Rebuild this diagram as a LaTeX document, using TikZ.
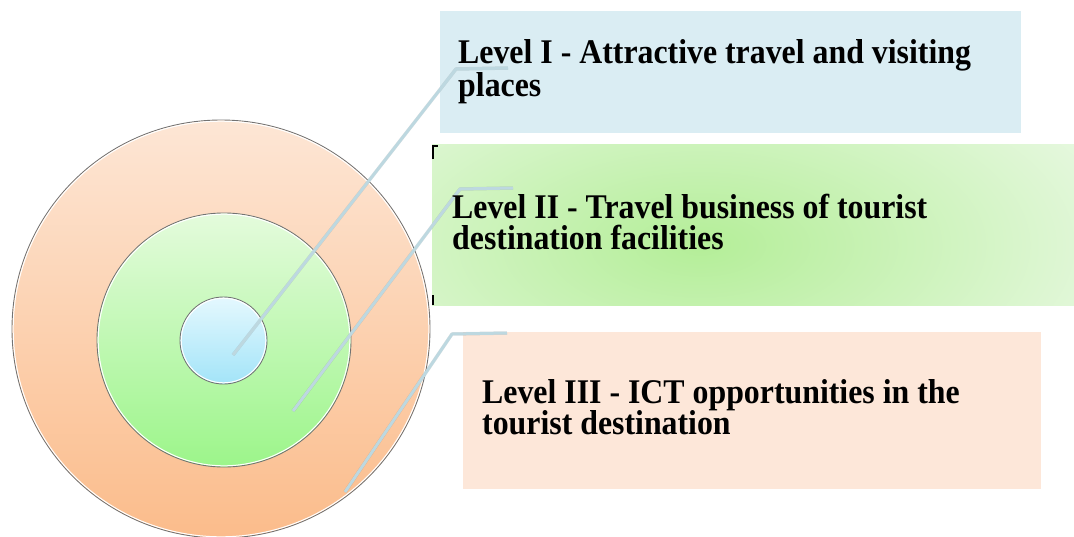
\documentclass[tikz,border=0pt]{standalone}
\usepackage{fontspec}
\setmainfont{Liberation Serif}[FakeStretch=0.92]
\begin{document}
\begin{tikzpicture}[x=1pt,y=-1pt,
  ringline/.style={draw=black!55,line width=0.9pt},
  ringhi/.style={draw=white,line width=1pt},
  leader/.style={draw=leadc,line width=3pt,line join=round},
  leadshadow/.style={draw=black,opacity=0.10,line width=3.5pt,line join=round},
  label/.style={anchor=base west,inner sep=0pt,align=left,
    font=\fontsize{34.6}{31.5}\selectfont\bfseries},
  tickmark/.style={draw=black,line width=1.6pt}]
\definecolor{leadc}{HTML}{BDD8E0}
\definecolor{boxa}{HTML}{DAEDF3}
\definecolor{boxc}{HTML}{FDE7D9}
\definecolor{boxbedge}{HTML}{E6F8DF}
\definecolor{boxbmid}{HTML}{B4EE98}
\definecolor{outtop}{HTML}{FDE6D5}
\definecolor{outbot}{HTML}{FBBC8B}
\definecolor{midtop}{HTML}{E4FBDC}
\definecolor{midbot}{HTML}{9CF58A}
\definecolor{intop}{HTML}{E4F8FE}
\definecolor{inbot}{HTML}{A3E4F8}
\useasboundingbox (0,0) rectangle (1074,536);

% concentric rings
\begin{scope}
\clip (0,0) rectangle (1074,536);
\shade[top color=outtop,bottom color=outbot,ringline] (221,329) circle (209);
\draw[ringhi] (221,329) circle (207.8);
\node[circle,minimum size=418pt,inner sep=0pt] (outer) at (221,329) {};
\end{scope}
\shade[top color=midtop,bottom color=midbot,ringline] (224,340) circle (127);
\draw[ringhi] (224,340) circle (125.8);
\node[circle,minimum size=254pt,inner sep=0pt] (middle) at (224,340) {};
\shade[top color=intop,bottom color=inbot,ringline] (223.5,340.5) circle (43.5);
\draw[ringhi] (223.5,340.5) circle (42.3);
\node[circle,minimum size=87pt,inner sep=0pt] (inner) at (223.5,340.5) {};

% level boxes
\fill[boxa] (440,11) rectangle (1021,133);
\node[inner sep=0pt,minimum width=581pt,minimum height=122pt] (box1) at (730.5,72) {};
\begin{scope}
\clip (432,144) rectangle (1074,305);
\fill[boxbedge] (432,144) rectangle (1074,305);
\shade[inner color=boxbmid,outer color=boxbedge] (700,245) ellipse (440 and 210);
\end{scope}
\node[inner sep=0pt,minimum width=642pt,minimum height=161pt] (box2) at (753,224.5) {};
\fill[boxc] (463,332) rectangle (1041,489);
\node[inner sep=0pt,minimum width=578pt,minimum height=157pt] (box3) at (752,410.5) {};

% small corner marks beside the second box
\draw[tickmark] (433,159) -- (433,146) -- (437.5,146);
\draw[tickmark] (433,295) -- (433,305);

% leader lines from the rings to the boxes
\coordinate (a0) at (233,355);
\coordinate (a1) at (456,69);
\coordinate (a2) at (508,68);
\coordinate (b0) at (293,411);
\coordinate (b1) at (460,189);
\coordinate (b2) at (513,188);
\coordinate (c0) at (345,492);
\coordinate (c1) at (452,334);
\coordinate (c2) at (507,333);
\begin{scope}[shift={(1.5,2)}]
\draw[leadshadow] (a0) -- (a1) -- (a2);
\draw[leadshadow] (b0) -- (b1) -- (b2);
\draw[leadshadow] (c0) -- (c1) -- (c2);
\end{scope}
\draw[leader] (a0) -- (a1) -- (a2);
\draw[leader] (b0) -- (b1) -- (b2);
\draw[leader] (c0) -- (c1) -- (c2);

% labels (anchored on the baseline of their last line)
\node[label] (t1) at (458,96.5) {Level I - Attractive travel and visiting\\places};
\node[label] (t2) at (452,249.5) {Level II - Travel business of tourist\\destination facilities};
\node[label] (t3) at (482,434.5) {Level III - ICT opportunities in the\\tourist destination};
\end{tikzpicture}
\end{document}
